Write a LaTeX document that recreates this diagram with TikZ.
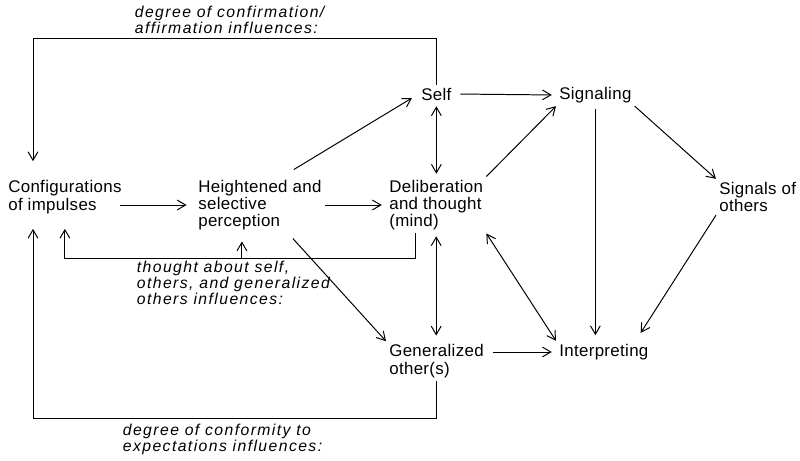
\documentclass[tikz,border=0pt]{standalone}
\usepackage{fontspec}
\setmainfont{Liberation Sans}
\newfontfamily\boxfont[LetterSpace=2]{Liberation Sans}
\newfontfamily\notefont[LetterSpace=9]{Liberation Sans}
\usetikzlibrary{calc,arrows.meta}
\tikzset{>={Straight Barb[length=6pt,width=7pt]}}

\begin{document}
\begin{tikzpicture}[x=0.025cm,y=-0.025cm,line width=0.7pt,
  stage/.style={align=left,anchor=west,inner sep=2pt,font=\fontsize{12}{12.3}\selectfont\boxfont},
  remark/.style={align=left,inner sep=1pt,font=\fontsize{11.2}{11.6}\selectfont\notefont\itshape}]
\useasboundingbox (0,0) rectangle (800,460);
\node[stage] (conf) at (5,197) {Configurations\\of impulses};
\node[stage] (perc) at (195,205) {Heightened and\\selective\\perception};
\node[stage] (self) at (418,94) {Self};
\node[stage] (sig) at (556,95) {Signaling};
\node[stage] (mind) at (386,205) {Deliberation\\and thought\\(mind)};
\node[stage] (others) at (716,197) {Signals of\\others};
\node[stage] (gen) at (386,361) {Generalized\\other(s)};
\node[stage] (interp) at (556,352) {Interpreting};

% main flow
\draw[->,shorten >=6pt] ($(conf.east |- perc)+(-5,0)$) -- (perc.west);
\draw[->,shorten >=3pt] (perc.east) -- (mind.west);
\draw[->] ($(perc.north east)+(-31,-7)$) -- ($(self.west)+(-6,4)$);
\draw[<->,shorten <=2pt,shorten >=2pt] (self.south) -- (self.south |- mind.north);
\draw[->,shorten <=4pt,shorten >=3pt] (self.east) -- (sig.west);
\draw[->] (mind.north east) -- (sig.south west);
\draw[->] (sig.south east) -- (others.north west);
\draw[->,shorten <=2pt,shorten >=4pt] (sig.south) -- (sig.south |- interp.north);
\draw[->] (others.south west) -- ($(interp.north east)+(-11,-8)$);
\draw[<->] (mind.south east) -- (interp.north west);
\draw[<->,shorten <=2pt,shorten >=4pt] (mind.south) -- (mind.south |- gen.north);
\draw[->] ($(perc.south east)+(-32,5)$) -- (gen.north west);
\draw[->,shorten <=4pt,shorten >=3pt] (gen.east |- interp) -- (interp.west);

% feedback loops
\draw[->,shorten >=0.4cm] (self.north) -- ++(0,-46) -| ($(conf.north west)+(28,0)$);
\node[remark,anchor=south west] (confirmnote) at (133,36) {degree of confirmation/\\affirmation influences:};
\draw[->,shorten >=0.3cm] ($(mind.south west)+(29,0)$) -- ++(0,25) coordinate (mindbend) -| (conf.south);
\coordinate (percfoot) at ($(perc.south)+(-18,8)$);
\draw[->] (percfoot |- mindbend) -- (percfoot);
\node[remark,anchor=north west] (thoughtnote) at (135,259) {thought about self,\\others, and generalized\\others influences:};
\draw[->,shorten >=0.3cm] (gen.south) -- ++(0,38) -| ($(conf.south west)+(28,0)$);
\node[remark,anchor=north west] (conformnote) at (121,422) {degree of conformity to\\expectations influences:};
\end{tikzpicture}
\end{document}
